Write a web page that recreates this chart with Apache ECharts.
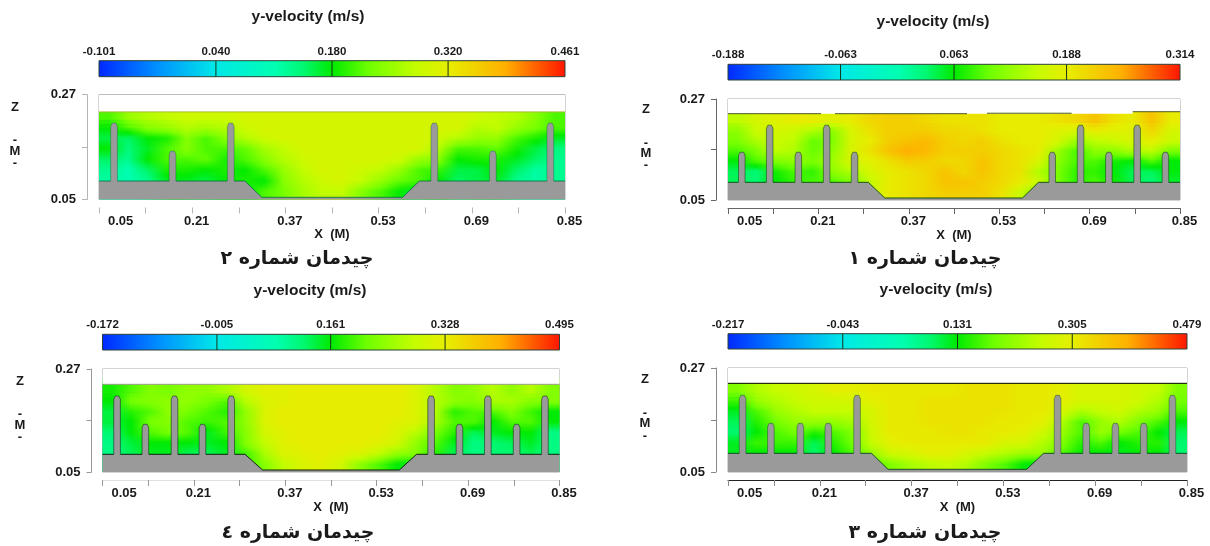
<!DOCTYPE html>
<html><head><meta charset="utf-8">
<style>html,body{margin:0;padding:0;background:#fff}#c{width:1210px;height:546px}</style>
<script src="https://cdn.jsdelivr.net/npm/echarts@6/dist/echarts.min.js"></script>
</head><body><div id="c"></div>
<script>
// Shared axis values (metres)
const xTicks=[0.05,0.13,0.21,0.29,0.37,0.45,0.53,0.61,0.69,0.77,0.85];
const xLabels=[0.05,0.21,0.37,0.53,0.69,0.85];
const zTicks=[0.05,0.16,0.27];
const zLabels=[0.05,0.27];
// Field sample positions
const colX=[0.0667,0.1,0.1333,0.1667,0.2,0.2333,0.2667,0.3,0.3333,0.3667,0.4,0.4333,0.4667,0.5,0.5333,0.5667,0.6,0.6333,0.6667,0.7,0.7333,0.7667,0.8,0.8333];
const rowZ=[0.223,0.2,0.178,0.156,0.133,0.111,0.088,0.066];
const _=null;
// Colour-bar scale ticks
const scale1=[-0.188,-0.063,0.063,0.188,0.314];
const scale2=[-0.101,0.040,0.180,0.320,0.461];
const scale3=[-0.217,-0.043,0.131,0.305,0.479];
const scale4=[-0.172,-0.005,0.161,0.328,0.495];
// y-velocity (m/s), rows top to bottom
const field1=[
[.15,.17,.18,.19,.19,.18,.19,.21,.22,.22,.21,.20,.20,.20,.19,.19,.19,.20,.21,.23,.20,.19,.23,.19],
[.12,.16,.17,.16,.14,.12,.17,.20,.22,.22,.22,.21,.21,.20,.19,.19,.19,.18,.17,.19,.18,.18,.21,.17],
[.11,.14,.16,.15,.10,.11,.17,.19,.22,.23,.24,.22,.21,.22,.20,.19,.19,.17,.13,.15,.16,.17,.19,.16],
[.09,.11,.15,.14,.10,.12,.17,.20,.23,.25,.24,.22,.22,.22,.21,.20,.19,.13,.09,.12,.12,.14,.15,.11],
[.06,.09,.11,.12,.11,.13,.17,.18,.20,.22,.22,.21,.21,.23,.21,.20,.17,.12,.09,.09,.07,.06,.09,.06],
[.04,.03,.07,.09,.08,.12,.14,.17,.19,.20,.21,.23,.21,.23,.21,.20,.14,.11,.08,.08,.06,.04,.04,.06],
[.04,.03,.06,.08,.09,.09,.11,.15,.19,.20,.21,.23,.23,.22,.21,.19,.16,.11,.08,.09,.07,.04,.03,.05],
[_,_,_,_,_,_,.14,.16,.19,.20,.21,.22,.22,.22,.20,.16,.12,_,_,_,_,_,_,_]];
const field2=[
[.21,.25,.27,.28,.29,.29,.29,.30,.30,.30,.30,.30,.30,.30,.30,.30,.30,.30,.30,.29,.28,.27,.24,.21],
[.18,.21,.24,.25,.27,.26,.27,.29,.30,.30,.30,.30,.30,.30,.30,.30,.30,.30,.30,.27,.28,.25,.23,.21],
[.16,.15,.18,.19,.24,.21,.24,.27,.29,.30,.30,.30,.30,.30,.30,.30,.30,.29,.27,.25,.25,.21,.19,.17],
[.18,.14,.17,.21,.24,.21,.21,.22,.26,.28,.30,.30,.30,.30,.30,.30,.30,.27,.21,.21,.22,.19,.16,.14],
[.15,.13,.18,.21,.21,.22,.19,.21,.24,.27,.29,.30,.30,.30,.30,.29,.25,.24,.18,.19,.19,.17,.15,.13],
[.13,.11,.15,.19,.19,.18,.19,.18,.21,.25,.28,.30,.30,.29,.28,.25,.21,.20,.16,.16,.18,.15,.12,.13],
[.12,.11,.13,.17,.17,.16,.18,.19,.18,.24,.27,.29,.30,.28,.25,.22,.21,.18,.15,.16,.17,.13,.12,.13],
[_,_,_,_,_,_,_,.18,.21,.23,.26,.28,.28,.24,.21,.18,.16,_,_,_,_,_,_,_]];
const field3=[
[.20,.24,.26,.27,.28,.30,.30,.31,.31,.31,.31,.31,.32,.32,.32,.31,.31,.30,.28,.28,.28,.27,.26,.20],
[.16,.22,.24,.26,.27,.27,.28,.30,.31,.31,.32,.32,.32,.32,.32,.31,.31,.30,.28,.28,.28,.27,.24,.19],
[.12,.17,.22,.24,.26,.26,.26,.28,.31,.31,.32,.32,.32,.32,.32,.31,.31,.28,.24,.26,.27,.24,.22,.17],
[.10,.15,.19,.22,.22,.22,.23,.28,.31,.31,.32,.32,.32,.32,.31,.31,.30,.24,.17,.22,.24,.20,.17,.13],
[.09,.13,.17,.19,.15,.17,.20,.27,.31,.31,.31,.32,.32,.31,.31,.30,.27,.22,.17,.22,.19,.17,.13,.10],
[.12,.16,.16,.16,.10,.15,.19,.26,.30,.31,.31,.31,.31,.31,.28,.28,.24,.20,.15,.17,.13,.15,.15,.09],
[.12,.13,.13,.13,.09,.13,.17,.22,.27,.28,.30,.30,.28,.26,.24,.22,.22,.17,.13,.13,.12,.13,.13,.09],
[_,_,_,_,_,_,_,.17,.20,.23,.25,.26,.24,.20,.17,.13,.12,_,_,_,_,_,_,_]];
const field4=[
[.17,.20,.23,.22,.24,.24,.26,.30,.32,.32,.33,.33,.33,.33,.33,.33,.31,.27,.23,.24,.27,.24,.27,.23],
[.16,.22,.23,.24,.24,.22,.20,.27,.31,.32,.33,.33,.33,.33,.33,.33,.31,.27,.24,.23,.26,.26,.23,.23],
[.14,.18,.20,.24,.22,.20,.18,.24,.31,.33,.33,.33,.33,.33,.33,.33,.31,.27,.18,.20,.20,.23,.19,.16],
[.14,.16,.22,.23,.20,.19,.20,.24,.31,.33,.33,.33,.33,.33,.33,.32,.31,.26,.20,.20,.16,.20,.20,.16],
[.12,.16,.20,.22,.20,.15,.19,.23,.30,.32,.33,.33,.33,.33,.33,.31,.27,.22,.18,.13,.15,.16,.16,.11],
[.11,.14,.16,.16,.16,.15,.16,.23,.28,.32,.33,.33,.33,.33,.32,.30,.24,.20,.15,.11,.12,.13,.15,.11],
[.11,.13,.15,.15,.13,.13,.15,.19,.26,.31,.32,.33,.32,.31,.28,.24,.23,.18,.13,.11,.12,.12,.13,.11],
[_,_,_,_,_,_,_,.19,.23,.28,.31,.32,.30,.24,.20,.16,.15,_,_,_,_,_,_,_]];
// Baffle centres (m) and crest heights (m)
const baffleX1=[0.0744,0.1238,0.1745,0.2246,0.2740,0.6239,0.6740,0.7241,0.7742,0.8242];
const baffleTop1=[0.154,0.213,0.154,0.213,0.154,0.154,0.213,0.154,0.213,0.154];
const baffleX2=[0.0758,0.1762,0.2762,0.6257,0.7261,0.8248];
const baffleTop2=[0.2104,0.1517,0.2104,0.2104,0.1517,0.2104];
const baffleX3=[0.0754,0.1247,0.1761,0.2248,0.2749,0.6244,0.6744,0.7252,0.7746,0.8246];
const baffleTop3=[0.2122,0.153,0.153,0.153,0.2122,0.2122,0.153,0.153,0.153,0.2122];
const baffleX4=[0.0755,0.1251,0.1761,0.2250,0.2753,0.6253,0.6749,0.7246,0.7749,0.8245];
const baffleTop4=[0.2123,0.1518,0.2123,0.1518,0.2123,0.2123,0.1518,0.2123,0.1518,0.2123];
// Bed profile [x start of slope, x trench start, x trench end, x slope end], floor z, trench z
const bed1=[0.2984,0.3275,0.5712,0.5995,0.0885,0.0544];
const bed2=[0.3006,0.3293,0.5714,0.5999,0.0888,0.0546];
const bed3=[0.3002,0.3289,0.5705,0.6000,0.0895,0.0557];
const bed4=[0.2994,0.3303,0.5697,0.5998,0.0878,0.0543];
// Free surface z
const band1=[[0.05,0.27],[0.85,0.27],[0.85,0.2423],[0.7663,0.2423],[0.7663,0.238],[0.05,0.238]];
const band2=[[0.05,0.27],[0.85,0.27],[0.85,0.2339],[0.05,0.2339]];
const band3=[[0.05,0.27],[0.85,0.27],[0.85,0.2376],[0.05,0.2376]];
const band4=[[0.05,0.27],[0.85,0.27],[0.85,0.2373],[0.05,0.2373]];
const surf1=[[0.05,0.238],[0.2146,0.238],[0.2146,null],[0.2394,0.238],[0.4730,0.238],[0.4730,null],[0.5084,0.239],[0.6583,0.239],[0.6583,null],[0.7663,0.2423],[0.85,0.2423]];
const surf2=[[0.05,0.2339],[0.85,0.2339]];
const surf3=[[0.05,0.2376],[0.85,0.2376]];
const surf4=[[0.05,0.2373],[0.85,0.2373]];

const rampStops=[[0,'#0028ff'],[0.125,'#0090ff'],[0.25,'#00e8e8'],[0.38,'#00ffb0'],[0.44,'#00f870'],[0.5,'#00ea00'],[0.58,'#70ff00'],[0.68,'#c4fc00'],[0.75,'#e6ee00'],[0.87,'#ffb000'],[1,'#ff1500']];
function hex(c){return [1,3,5].map(i=>parseInt(c.substr(i,2),16));}
function ramp(t){t=Math.max(0,Math.min(1,t));
  for(let i=1;i<rampStops.length;i++){if(t<=rampStops[i][0]){
    const a=rampStops[i-1],b=rampStops[i],f=(t-a[0])/(b[0]-a[0]),A=hex(a[1]),B=hex(b[1]);
    return `rgb(${[0,1,2].map(k=>Math.round(A[k]+(B[k]-A[k])*f)).join(',')})`;}}
  return rampStops[rampStops.length-1][1];}

const FONT='"Liberation Sans",Arial,sans-serif';
const panels=[
 {scale:scale2,field:field2,bx:baffleX2,bt:baffleTop2,bed:bed2,band:band2,surf:surf2,L:99,R:565,T:94.7,B:199.5,cT:60.7,cB:76.7,off:12,
  surfC:'#a8b83a',edge:'rgba(0,110,60,0.8)',soft:'rgba(0,90,50,0.35)',axC:'#b5b5b5',lineC:'#ffffff',xTitle:[308,17],zX:15,zY:[107,140,151,163],cap:[297,259,'چیدمان شماره ۲']},
 {scale:scale1,field:field1,bx:baffleX1,bt:baffleTop1,bed:bed1,band:band1,surf:surf1,L:728,R:1180,T:99,B:200,cT:64.3,cB:80,off:12,
  surfC:'#4a5a20',edge:'rgba(0,70,0,0.85)',soft:'rgba(0,60,0,0.5)',axC:'#666666',lineC:'#666666',xTitle:[933,22],zX:646,zY:[109,143,153,165],cap:[925,259,'چیدمان شماره ۱']},
 {scale:scale4,field:field4,bx:baffleX4,bt:baffleTop4,bed:bed4,band:band4,surf:surf4,L:102.5,R:559.5,T:369,B:472,cT:334.3,cB:350,off:11,
  surfC:'#9a9a8a',edge:'rgba(0,20,0,0.9)',soft:'rgba(0,30,10,0.5)',axC:'#999999',lineC:'#e0e0e0',xTitle:[310,291],zX:20,zY:[381,414,425,437],cap:[298,533,'چیدمان شماره ٤']},
 {scale:scale3,field:field3,bx:baffleX3,bt:baffleTop3,bed:bed3,band:band3,surf:surf3,L:728,R:1187,T:368,B:472,cT:333.7,cB:349,off:12,
  surfC:'#000000',edge:'rgba(0,60,20,0.85)',soft:'rgba(0,60,20,0.4)',axC:'#888888',lineC:'#222222',xTitle:[936,290],zX:645,zY:[379,413,423,436],cap:[925,533,'چیدمان شماره ۳']}
];

function bedPolygon(bx,bt,bed){
  const [s1,t1,t2,s2,fz,tz]=bed, w=0.0058, pts=[[0.05,0.05],[0.05,fz]];
  const add=i=>{const x=bx[i],top=bt[i];pts.push([x-w,fz],[x-w,top-0.007],[x-w*0.55,top],[x+w*0.55,top],[x+w,top-0.007],[x+w,fz]);};
  bx.forEach((x,i)=>{if(x<s1)add(i);});
  pts.push([s1,fz],[t1,tz],[t2,tz],[s2,fz]);
  bx.forEach((x,i)=>{if(x>s2)add(i);});
  pts.push([0.85,fz],[0.85,0.05]);
  return pts;
}
const grid=[],xAxis=[],yAxis=[],series=[],graphic=[];
const txt=(x,y,t,font)=>({type:'text',x,y,silent:true,z:50,style:{text:t,x:0,y:0,align:'center',verticalAlign:'middle',fill:'#1a1a1a',font}});
panels.forEach(p=>{
  // colour bar
  let gi=grid.length;
  grid.push({left:p.L,top:p.cT,width:p.R-p.L,height:p.cB-p.cT,show:false});
  const mn=p.scale[0],mx=p.scale[4];
  xAxis.push({gridIndex:gi,type:'value',position:'top',min:mn,max:mx,splitLine:{show:false},
    axisLine:{show:false},axisTick:{show:false},
    axisLabel:{customValues:p.scale,margin:3,color:'#1a1a1a',fontFamily:FONT,fontWeight:'bold',fontSize:11.5,formatter:v=>v.toFixed(3)}});
  yAxis.push({gridIndex:gi,type:'value',min:0,max:1,show:false});
  series.push({type:'custom',xAxisIndex:gi,yAxisIndex:gi,z:2,silent:true,data:[[mn,0,mx,1]],
    renderItem:(c,api)=>{const a=api.coord([api.value(0),api.value(3)]),b=api.coord([api.value(2),api.value(1)]);
      return {type:'rect',shape:{x:a[0],y:a[1],width:b[0]-a[0],height:b[1]-a[1]},
        style:{stroke:'#2c4238',lineWidth:1,fill:new echarts.graphic.LinearGradient(0,0,1,0,rampStops.map(s=>({offset:s[0],color:s[1]})))}};}});
  series.push({type:'custom',xAxisIndex:gi,yAxisIndex:gi,z:3,silent:true,data:p.scale.slice(1,4).map(v=>[v]),
    renderItem:(c,api)=>{const a=api.coord([api.value(0),1]),b=api.coord([api.value(0),0]);
      return {type:'line',shape:{x1:a[0],y1:a[1],x2:b[0],y2:b[1]},style:{stroke:'#16331a',lineWidth:1}};}});
  // plot
  gi=grid.length;
  grid.push({left:p.L,top:p.T,width:p.R-p.L,height:p.B-p.T,show:true,backgroundColor:'#fff',borderColor:'#a8a8a8',borderWidth:1});
  xAxis.push({gridIndex:gi,type:'value',position:'bottom',min:0.05,max:0.85,offset:8,z:6,splitLine:{show:false},
    axisLine:{show:true,onZero:false,lineStyle:{color:p.lineC,width:1}},
    axisTick:{show:true,length:6,customValues:xTicks,lineStyle:{color:p.axC,width:1}},
    axisLabel:{customValues:xLabels,margin:7,padding:[0,0,0,9],alignMinLabel:'left',alignMaxLabel:'center',color:'#1a1a1a',fontFamily:FONT,fontWeight:'bold',fontSize:13,formatter:v=>v.toFixed(2)},
    name:'X  (M)',nameLocation:'middle',nameGap:16,nameTextStyle:{color:'#1a1a1a',fontFamily:FONT,fontWeight:'bold',fontSize:13}});
  yAxis.push({gridIndex:gi,type:'value',position:'left',min:0.05,max:0.27,offset:p.off,z:6,splitLine:{show:false},
    axisLine:{show:true,onZero:false,lineStyle:{color:p.axC,width:1}},
    axisTick:{show:true,length:5,customValues:zTicks,lineStyle:{color:p.axC,width:1}},
    axisLabel:{customValues:zLabels,margin:11,color:'#1a1a1a',fontFamily:FONT,fontWeight:'bold',fontSize:13,formatter:v=>v.toFixed(2)}});
  // contour field: every read row blended toward the next one on screen
  const rng=mx-mn, SUB=6, rows=p.field;
  const cell=(r,c)=>{for(let k=r;k>=0;k--){if(rows[k][c]!==null)return rows[k][c];}return 0;};
  series.push({type:'custom',xAxisIndex:gi,yAxisIndex:gi,z:2,silent:true,clip:true,data:rowZ.map((z,r)=>[r,z]),
    renderItem:(c,api)=>{
      const r=api.value(0),z=api.value(1),kids=[],next=Math.min(r+1,rowZ.length-1);
      const zEnd=r===rowZ.length-1?0.05:rowZ[next];
      const zStart=r===0?0.25:z;
      const x0=api.coord([0.05,0])[0],x1=api.coord([0.85,0])[0];
      for(let s=0;s<SUB;s++){
        const f0=s/SUB,f1=(s+1)/SUB,za=zStart+(zEnd-zStart)*f0,zb=zStart+(zEnd-zStart)*f1;
        const ya=api.coord([0.05,za])[1],yb=api.coord([0.05,zb])[1];
        const stops=colX.map((x,i)=>{const v=cell(r,i)+(cell(next,i)-cell(r,i))*(r===0&&za>z?0:(z-(za+zb)/2)/((z-zEnd)||1));
          return {offset:(x-0.05)/0.8,color:ramp((v-mn)/rng)};});
        kids.push({type:'rect',shape:{x:x0,y:ya-0.4,width:x1-x0,height:yb-ya+0.8},style:{fill:new echarts.graphic.LinearGradient(0,0,1,0,stops)}});
      }
      return {type:'group',children:kids};
    }});
  // white band above the free surface, bed and baffles
  const poly=(pts,fill,z)=>series.push({type:'custom',xAxisIndex:gi,yAxisIndex:gi,z,silent:true,clip:true,data:[[0]],
    renderItem:(c,api)=>({type:'polygon',shape:{points:pts.map(q=>api.coord(q))},style:{fill}})});
  poly(p.band,'#ffffff',4);
  const pts=bedPolygon(p.bx,p.bt,p.bed), fz=p.bed[4];
  poly(pts,'#9a9a9a',5);
  series.push({type:'custom',xAxisIndex:gi,yAxisIndex:gi,z:5,silent:true,clip:true,data:[[0]],
    renderItem:(c,api)=>{const kids=[];
      for(let i=1;i<pts.length-2;i++){const a=pts[i],b=pts[i+1],A=api.coord(a),B=api.coord(b),low=a[1]<=fz+1e-6&&b[1]<=fz+1e-6;
        kids.push({type:'line',shape:{x1:A[0],y1:A[1],x2:B[0],y2:B[1]},style:{stroke:low?p.edge:p.soft,lineWidth:1}});}
      return {type:'group',children:kids};}});
  series.push({type:'line',xAxisIndex:gi,yAxisIndex:gi,z:6,silent:true,symbol:'none',data:p.surf,lineStyle:{color:p.surfC,width:1},connectNulls:false,clip:false});
  // texts
  graphic.push(txt(p.xTitle[0],p.xTitle[1],'y-velocity (m/s)','bold 15.5px '+FONT));
  ['Z','-','M','-'].forEach((t,i)=>graphic.push(txt(p.zX,p.zY[i],t,'bold 13px '+FONT)));
  graphic.push(txt(p.cap[0],p.cap[1],p.cap[2],'bold 19px "DejaVu Sans"'));
});
const chart=echarts.init(document.getElementById('c'),null,{renderer:'canvas',width:1210,height:546});
chart.setOption({animation:false,backgroundColor:'#fff',grid,xAxis,yAxis,series,graphic});
</script></body></html>
